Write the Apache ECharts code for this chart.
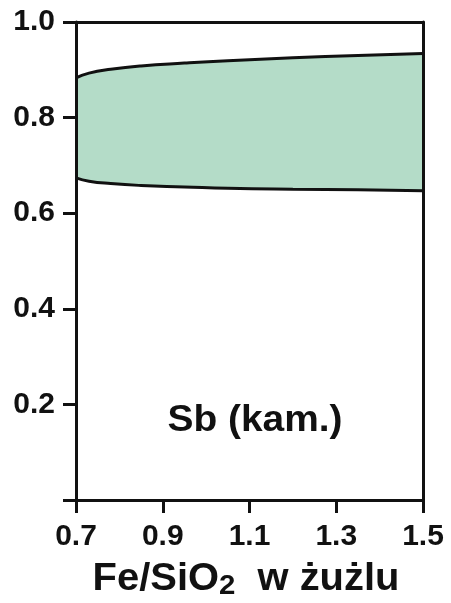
<!DOCTYPE html>
<html>
<head>
<meta charset="utf-8">
<script src="https://cdn.jsdelivr.net/npm/echarts@6/dist/echarts.min.js"></script>
<style>html,body{margin:0;padding:0;background:#fff;}#c{width:451px;height:603px;}</style>
</head>
<body>
<div id="c"></div>
<script>
// Fe/SiO2 ratio in slag (x)
var xValues = [0.70, 0.73, 0.78, 0.85, 0.95, 1.05, 1.20, 1.35, 1.50];
// upper boundary of the band
var upperValues = [0.883, 0.893, 0.901, 0.908, 0.914, 0.919, 0.925, 0.930, 0.934];
// lower boundary of the band
var lowerValues = [0.674, 0.667, 0.662, 0.658, 0.655, 0.652, 0.650, 0.649, 0.647];
var xTicks = [0.7, 0.9, 1.1, 1.3, 1.5];
var yTicks = [0.2, 0.4, 0.6, 0.8, 1.0];
var bandLabel = 'Sb (kam.)';

var FONT = '"Liberation Sans", Arial, sans-serif';
var chart = echarts.init(document.getElementById('c'), null, {renderer: 'canvas'});

var upperData = xValues.map(function (x, i) { return [x, upperValues[i]]; });
var lowerData = xValues.map(function (x, i) { return [x, lowerValues[i]]; });

var axisLineStyle = {color: '#111', width: 3};
chart.setOption({
  animation: false,
  backgroundColor: '#fff',
  grid: {left: 76, right: 28, top: 22, bottom: 103},
  xAxis: [{
    type: 'value', min: 0.7, max: 1.5, interval: 0.2, z: 10,
    axisLine: {show: true, lineStyle: axisLineStyle},
    axisTick: {show: true, length: 13, lineStyle: axisLineStyle},
    splitLine: {show: false},
    axisLabel: {margin: 22, color: '#111', fontFamily: FONT, fontWeight: 'bold', fontSize: 30,
      formatter: function (v) { return v.toFixed(1); }}
  }, {
    type: 'value', position: 'top', min: 0.7, max: 1.5, z: 10,
    axisLine: {show: true, onZero: false, lineStyle: axisLineStyle},
    axisTick: {show: false}, axisLabel: {show: false}, splitLine: {show: false}
  }],
  yAxis: [{
    type: 'value', min: 0, max: 1, interval: 0.2, z: 10,
    axisLine: {show: true, onZero: false, lineStyle: axisLineStyle},
    axisTick: {show: true, length: 13, lineStyle: axisLineStyle},
    splitLine: {show: false},
    axisLabel: {margin: 21, color: '#111', fontFamily: FONT, fontWeight: 'bold', fontSize: 30,
      formatter: function (v) { return yTicks.some(function (t) { return Math.abs(t - v) < 1e-6; }) ? v.toFixed(1) : ''; }}
  }, {
    type: 'value', position: 'right', min: 0, max: 1, z: 10,
    axisLine: {show: true, onZero: false, lineStyle: axisLineStyle},
    axisTick: {show: false}, axisLabel: {show: false}, splitLine: {show: false}
  }],
  series: [{
    type: 'line', data: upperData, smooth: 0.5, symbol: 'none',
    lineStyle: {color: '#111', width: 3},
    areaStyle: {color: '#b4dcc8', opacity: 1, origin: 'start'}, z: 2
  }, {
    type: 'line', data: lowerData, smooth: 0.5, symbol: 'none',
    lineStyle: {color: '#111', width: 3},
    areaStyle: {color: '#ffffff', opacity: 1, origin: 'start'}, z: 3
  }],
  graphic: [{
    type: 'text', x: 255, y: 421, z: 20, scaleX: 1.08,
    style: {text: bandLabel, fill: '#111', font: 'bold 36px ' + FONT, align: 'center', verticalAlign: 'middle'}
  }, {
    type: 'text', x: 246, y: 580, z: 20, scaleX: 1.05,
    style: {
      text: '{a|Fe/SiO}{s|2}{a|  w żużlu}',
      align: 'center', verticalAlign: 'middle',
      rich: {
        a: {fill: '#111', fontFamily: FONT, fontWeight: 'bold', fontSize: 38, lineHeight: 40, verticalAlign: 'middle'},
        s: {fill: '#111', fontFamily: FONT, fontWeight: 'bold', fontSize: 28, lineHeight: 18, verticalAlign: 'bottom'}
      }
    }
  }]
});
</script>
</body>
</html>
